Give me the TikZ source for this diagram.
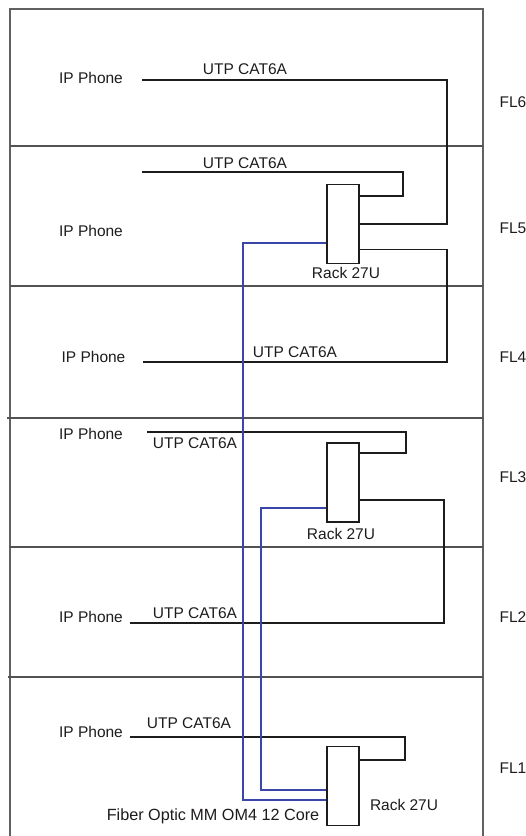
\documentclass[tikz,border=0pt]{standalone}
\usepackage{fontspec}
\setmainfont{Liberation Sans}
\usetikzlibrary{positioning, calc}

\definecolor{fiberblue}{RGB}{58,70,168}
\definecolor{inkgray}{RGB}{30,27,28}

\begin{document}
\begin{tikzpicture}[x=1pt, y=-1pt, font=\fontsize{15.5}{18}\selectfont, text=inkgray]
        \tikzstyle{rack} = [rectangle, draw=inkgray, line width=1.6pt, minimum width=32pt, minimum height=79pt, inner sep=0pt]
        \tikzstyle{txt} = [inner sep=0pt]
        \tikzstyle{frame} = [draw=black!62, line width=1.3pt]
        \tikzstyle{floorline} = [draw=black!68, line width=1.1pt]
        \tikzstyle{cable} = [draw=inkgray, line width=1.6pt]
        \tikzstyle{fiber} = [draw=fiberblue, line width=1.4pt]

        \useasboundingbox (0,0) rectangle (526,836);

        % building and floors
        \draw [frame] (10,836) -- (10,9) -- (483,9) -- (483,836);
        \draw [floorline] (10,146) -- (483,146);
        \draw [floorline] (10,286) -- (483,286);
        \draw [floorline] (7,418) -- (483,418);
        \draw [floorline] (10,547) -- (483,547);
        \draw [floorline] (8,677) -- (483,677);

        \node (fl6) [txt] at (513,102) {FL6};
        \node (fl5) [txt] at (513,228) {FL5};
        \node (fl4) [txt] at (513,357) {FL4};
        \node (fl3) [txt] at (513,477) {FL3};
        \node (fl2) [txt] at (513,617) {FL2};
        \node (fl1) [txt] at (513,768) {FL1};

        % phones
        \node (phone6) [txt] at (91,78) {IP Phone};
        \node (phone5) [txt] at (91,231) {IP Phone};
        \node (phone4) [txt] at (93.5,357) {IP Phone};
        \node (phone3) [txt] at (91,434) {IP Phone};
        \node (phone2) [txt] at (91,617) {IP Phone};
        \node (phone1) [txt] at (91,732) {IP Phone};

        \coordinate (c6) at (142,80);
        \coordinate (c5) at (142,172);
        \coordinate (c4) at (143,362);
        \coordinate (c3) at (147,432);
        \coordinate (c2) at (130,623);
        \coordinate (c1) at (130,737);

        % racks
        \node (rack5) [rack] at (343,224) {};
        \node (rack3) [rack] at (343,482.5) {};
        \node (rack1) [rack] at (343,786) {};
        \node (rack5lbl) [txt, below=3pt of rack5, xshift=3pt] {Rack 27U};
        \node (rack3lbl) [txt, below=5pt of rack3, xshift=-2pt] {Rack 27U};
        \node (rack1lbl) [txt, anchor=west] at ($(rack1.east)+(10,19)$) {Rack 27U};

        % UTP cables
        \draw [cable] (c6) -- (447,80) |- (rack5.east);
        \draw [cable] (c5) -- (403,172) |- ($(rack5.north east)+(0,12)$);
        \draw [cable] ($(rack5.south east)+(0,-15)$) -| (447,362) -- (c4);
        \draw [cable] (c3) -- (406,432) |- ($(rack3.north east)+(0,11)$);
        \draw [cable] ($(rack3.east)+(0,17.5)$) -| (444,623) -- (c2);
        \draw [cable] (c1) -- (405,737) |- ($(rack1.north east)+(0,14)$);

        \node (utp6) [txt] at (245,69) {UTP CAT6A};
        \node (utp5) [txt] at (245,163) {UTP CAT6A};
        \node (utp4) [txt] at (295,352) {UTP CAT6A};
        \node (utp3) [txt] at (195,443) {UTP CAT6A};
        \node (utp2) [txt] at (195,613) {UTP CAT6A};
        \node (utp1) [txt] at (189,723) {UTP CAT6A};

        % fiber backbone
        \draw [fiber] ($(rack5.west)+(0,19)$) -| (243,800) -- ($(rack1.west)+(0,14)$);
        \draw [fiber] ($(rack3.west)+(0,25.5)$) -| (261,790) -- ($(rack1.west)+(0,4)$);
        \node (fiberlbl) [txt, anchor=base, font=\fontsize{16.2}{18}\selectfont] at (213,820) {Fiber Optic MM OM4 12 Core};
\end{tikzpicture}
\end{document}
